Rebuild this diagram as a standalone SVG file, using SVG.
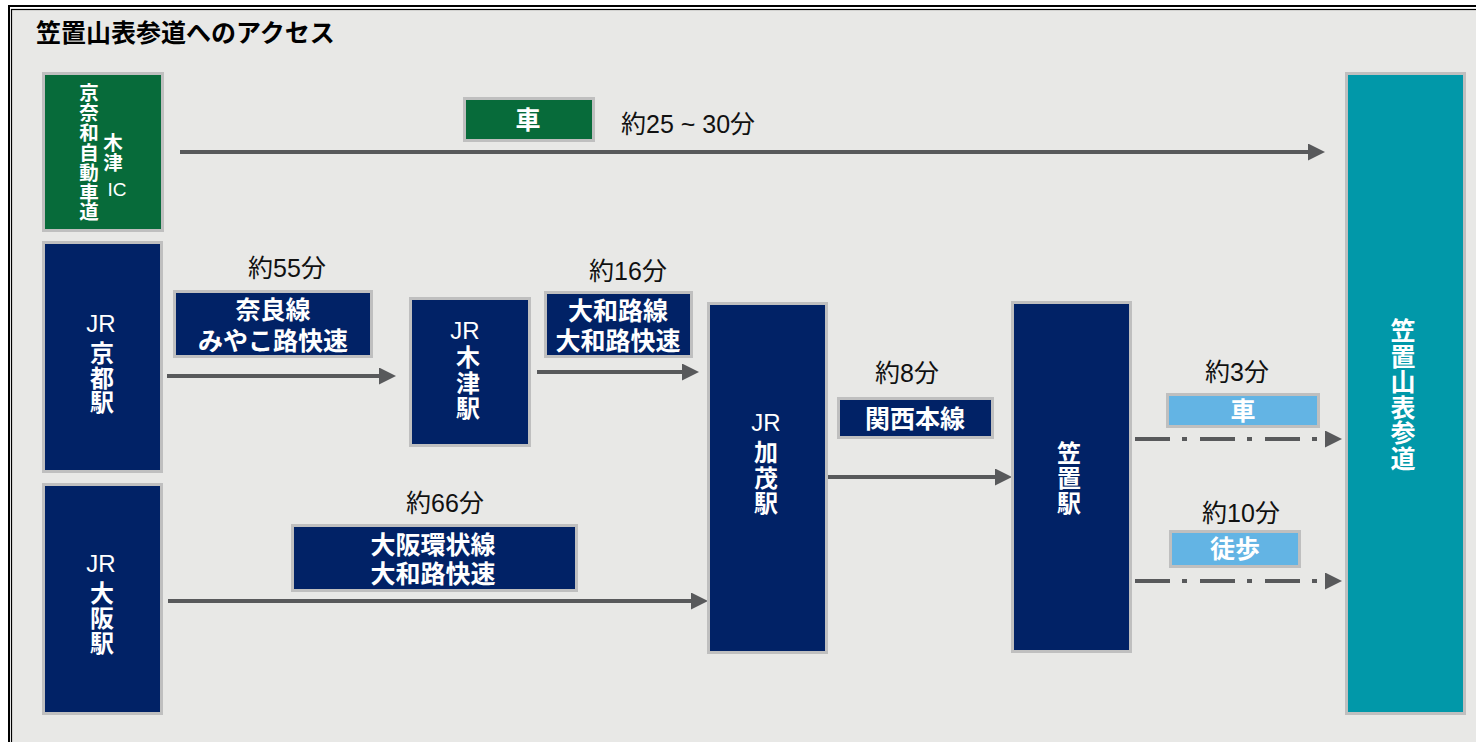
<svg xmlns="http://www.w3.org/2000/svg" width="1476" height="742" viewBox="0 0 1476 742">
  <style>
    .box{stroke:#bfbfbf;stroke-width:3}
    .navy{fill:#012266}
    .green{fill:#076b3a}
    .teal{fill:#0198a9}
    .sky{fill:#63b4e4}
    text{font-family:"Liberation Sans","Noto Sans CJK JP",sans-serif;dominant-baseline:central;text-anchor:middle}
    .w{fill:#ffffff}
    .b{font-weight:bold}
    .jr{font-size:24px;fill:#ffffff}
    .st{font-size:24px;font-weight:bold;fill:#ffffff}
    .lbl{font-size:25px;font-weight:bold;fill:#ffffff}
    .time{font-size:25px;fill:#111111}
    .line{stroke:#58595b;stroke-width:4;fill:none}
    .dd{stroke-dasharray:35 12 5 13}
  </style>
  <defs>
    <marker id="ah" markerUnits="userSpaceOnUse" markerWidth="17" markerHeight="17" refX="0" refY="8.5" orient="auto">
      <path d="M0,0 L17,8.5 L0,17 z" fill="#58595b"/>
    </marker>
  </defs>

  <rect x="0" y="0" width="1476" height="742" fill="#ffffff"/>
  <rect x="9" y="6" width="1480" height="750" fill="#ffffff" stroke="#000000" stroke-width="2"/>
  <rect x="11.5" y="9.5" width="1480" height="750" fill="#e8e8e6" stroke="#000000" stroke-width="1.2"/>

  <text x="36" y="33" style="text-anchor:start;font-size:25px;font-weight:bold;fill:#000000">笠置山表参道へのアクセス</text>

  <g id="connectors">
    <line class="line" x1="180" y1="152" x2="1308" y2="152" marker-end="url(#ah)"/>
    <line class="line" x1="167" y1="376" x2="379" y2="376" marker-end="url(#ah)"/>
    <line class="line" x1="537" y1="372" x2="682" y2="372" marker-end="url(#ah)"/>
    <line class="line" x1="168" y1="601" x2="691" y2="601" marker-end="url(#ah)"/>
    <line class="line" x1="827" y1="477" x2="995" y2="477" marker-end="url(#ah)"/>
    <line class="line dd" x1="1135" y1="439" x2="1325" y2="439" marker-end="url(#ah)"/>
    <line class="line dd" x1="1135" y1="581" x2="1325" y2="581" marker-end="url(#ah)"/>
  </g>

  <g id="node-ic">
    <rect class="box green" x="43.5" y="73.5" width="119" height="157"/>
    <text class="w b" style="font-size:19.5px" x="89" y="93"><tspan x="89" dy="0">京</tspan><tspan x="89" dy="19.9">奈</tspan><tspan x="89" dy="19.9">和</tspan><tspan x="89" dy="19.9">自</tspan><tspan x="89" dy="19.9">動</tspan><tspan x="89" dy="19.9">車</tspan><tspan x="89" dy="19.9">道</tspan></text>
    <text class="w b" style="font-size:19.5px" x="113" y="143"><tspan x="113" dy="0">木</tspan><tspan x="113" dy="19.5">津</tspan></text>
    <text class="w" style="font-size:19px" x="117" y="189">IC</text>
  </g>

  <g id="node-sando">
    <rect class="box teal" x="1346.5" y="73.5" width="118" height="640"/>
    <text class="st" style="font-size:25px" x="1403" y="331"><tspan x="1403" dy="0">笠</tspan><tspan x="1403" dy="25.5">置</tspan><tspan x="1403" dy="25.5">山</tspan><tspan x="1403" dy="25.5">表</tspan><tspan x="1403" dy="25.5">参</tspan><tspan x="1403" dy="25.5">道</tspan></text>
  </g>

  <g id="node-kyoto">
    <rect class="box navy" x="43.5" y="242.5" width="118" height="229"/>
    <text class="jr" x="101" y="323">JR</text>
    <text class="st" x="102" y="353"><tspan x="102" dy="0">京</tspan><tspan x="102" dy="24.5">都</tspan><tspan x="102" dy="24.5">駅</tspan></text>
  </g>

  <g id="node-osaka">
    <rect class="box navy" x="43.5" y="484.5" width="118" height="229"/>
    <text class="jr" x="101" y="563">JR</text>
    <text class="st" x="102" y="593"><tspan x="102" dy="0">大</tspan><tspan x="102" dy="25">阪</tspan><tspan x="102" dy="25">駅</tspan></text>
  </g>

  <g id="node-kizu">
    <rect class="box navy" x="410.5" y="298.5" width="119" height="147"/>
    <text class="jr" x="465" y="330">JR</text>
    <text class="st" x="468" y="357"><tspan x="468" dy="0">木</tspan><tspan x="468" dy="25.5">津</tspan><tspan x="468" dy="25.5">駅</tspan></text>
  </g>

  <g id="node-kamo">
    <rect class="box navy" x="708.5" y="303.5" width="118" height="349"/>
    <text class="jr" x="766" y="422">JR</text>
    <text class="st" x="766" y="452"><tspan x="766" dy="0">加</tspan><tspan x="766" dy="25.5">茂</tspan><tspan x="766" dy="25.5">駅</tspan></text>
  </g>

  <g id="node-kasagi">
    <rect class="box navy" x="1012.5" y="302.5" width="118" height="349"/>
    <text class="st" x="1069" y="453"><tspan x="1069" dy="0">笠</tspan><tspan x="1069" dy="25">置</tspan><tspan x="1069" dy="25">駅</tspan></text>
  </g>

  <g id="label-car-ic">
    <rect class="box green" x="464.5" y="98.5" width="129" height="42"/>
    <text class="lbl" x="528" y="120">車</text>
    <text class="time" x="621" y="124" style="text-anchor:start">約25 ~ 30分</text>
  </g>

  <g id="label-nara">
    <text class="time" x="287" y="268">約55分</text>
    <rect class="box navy" x="174.5" y="291.5" width="197" height="65"/>
    <text class="lbl" x="273" y="310">奈良線</text>
    <text class="lbl" x="273" y="341">みやこ路快速</text>
  </g>

  <g id="label-yamatoji">
    <text class="time" x="628" y="271">約16分</text>
    <rect class="box navy" x="545.5" y="292.5" width="146" height="64"/>
    <text class="lbl" x="618" y="311">大和路線</text>
    <text class="lbl" x="618" y="341">大和路快速</text>
  </g>

  <g id="label-loop">
    <text class="time" x="445" y="503">約66分</text>
    <rect class="box navy" x="292.5" y="525.5" width="284" height="65"/>
    <text class="lbl" x="433" y="545">大阪環状線</text>
    <text class="lbl" x="433" y="574">大和路快速</text>
  </g>

  <g id="label-kansai">
    <text class="time" x="907" y="373">約8分</text>
    <rect class="box navy" x="838.5" y="398.5" width="154" height="39"/>
    <text class="lbl" x="915" y="419">関西本線</text>
  </g>

  <g id="label-car">
    <text class="time" x="1237" y="372">約3分</text>
    <rect class="box sky" x="1167.5" y="394.5" width="151" height="32"/>
    <text class="lbl" x="1243" y="411">車</text>
  </g>

  <g id="label-walk">
    <text class="time" x="1241" y="513">約10分</text>
    <rect class="box sky" x="1170.5" y="531.5" width="129" height="35"/>
    <text class="lbl" x="1235" y="549">徒歩</text>
  </g>
</svg>
